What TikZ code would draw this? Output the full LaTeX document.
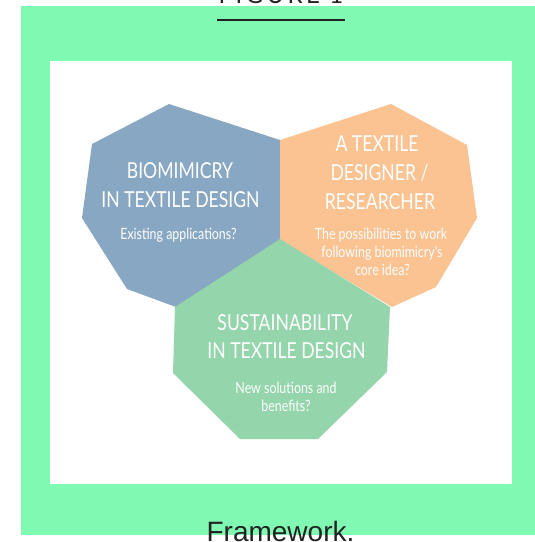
\documentclass[tikz,border=0pt]{standalone}
\usepackage{fontspec}
\setmainfont{Liberation Sans}
\newfontfamily\hexfont{Lato}[FakeStretch=0.8]
\newfontfamily\headfont{Lato}[LetterSpace=14]
\definecolor{framegreen}{RGB}{128,250,179}
\definecolor{bioblue}{RGB}{136,167,194}
\definecolor{designorange}{RGB}{251,194,146}
\definecolor{sustgreen}{RGB}{148,213,172}
\definecolor{captiongray}{RGB}{34,34,34}
\tikzset{
  title/.style={anchor=base, text=white, inner sep=0pt, font=\hexfont\fontsize{22}{26}\selectfont},
  question/.style={anchor=base, text=white, inner sep=0pt, font=\hexfont\fontsize{15.5}{18}\selectfont},
}
\begin{document}
\begin{tikzpicture}[x=1pt, y=-1pt]
\useasboundingbox (0,0) rectangle (535,542);
% frame and panel
\fill[framegreen] (21,6) rectangle (535,535);
\fill[white] (50,61) rectangle (512,484);
% figure heading (only its lower part lies on the page)
\node[anchor=base, inner sep=0pt, text=captiongray, font=\headfont\fontsize{24}{28}\selectfont] (head) at (281,3) {FIGURE 1};
\coordinate (ruleL) at (217,19.5);
\coordinate (ruleR) at (345,19.5);
\draw[captiongray, line width=2pt] (ruleL) -- (ruleR);
% three heptagons
\fill[bioblue] (169,104) -- (92,144) -- (82,218) -- (127,289) -- (176,307) -- (280,240) -- (280,140) -- cycle;
\fill[designorange] (280,140) -- (391,104) -- (467,145) -- (477,218) -- (436,287) -- (392,307) -- (280,240) -- cycle;
\fill[sustgreen] (280,239) -- (175,307) -- (173,373) -- (240,439) -- (318,439) -- (387,372) -- (390,307) -- cycle;
% biomimicry
\node[title] (b1) at (180,178.3) {BIOMIMICRY};
\node[title] (b2) at (180.5,207.5) {IN TEXTILE DESIGN};
\node[question] (b3) at (178.5,239) {Existing applications?};
% designer / researcher
\node[title] (o1) at (377,151) {A TEXTILE};
\node[title] (o2) at (379.5,180) {DESIGNER /};
\node[title] (o3) at (380,209) {RESEARCHER};
\node[question] (o4) at (381,239) {The possibilities to work};
\node[question] (o5) at (382,257.3) {following biomimicry's};
\node[question] (o6) at (382.5,275.5) {core idea?};
% sustainability
\node[title] (g1) at (285,330) {SUSTAINABILITY};
\node[title] (g2) at (286.5,358.5) {IN TEXTILE DESIGN};
\node[question] (g3) at (286,393) {New solutions and};
\node[question] (g4) at (286,411.5) {benefits?};
% caption
\node[anchor=base, inner sep=0pt, text=captiongray, font=\fontsize{28}{32}\selectfont] (cap) at (280.5,541) {Framework.};
\end{tikzpicture}
\end{document}
